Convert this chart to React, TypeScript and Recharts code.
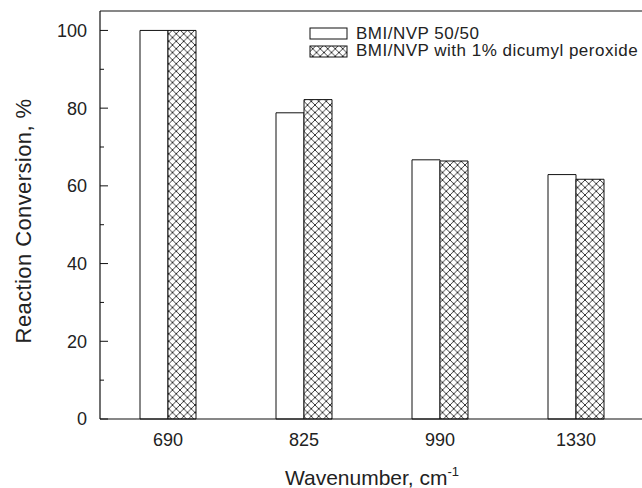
import { BarChart, Bar, XAxis, YAxis, ReferenceLine } from "recharts"

const wavenumbers = ["690", "825", "990", "1330"]
const plainSeries = [100, 78.8, 66.7, 62.9]
const peroxideSeries = [100, 82.2, 66.4, 61.7]
const yTicks = [0, 10, 20, 30, 40, 50, 60, 70, 80, 90, 100]

const SERIES_NAMES = ["BMI/NVP 50/50", "BMI/NVP with 1% dicumyl peroxide"]

const rows = wavenumbers.map((w, i) => ({
  name: w,
  plain: plainSeries[i],
  peroxide: peroxideSeries[i],
}))

const FONT = "'Liberation Sans', Arial, sans-serif"
const Y_TICK_MARGIN = 13

// left axis ticks point into the plot; labels only on the major ones
const YTick = (props: any) => {
  const { x, y, payload } = props
  const axisX = x + Y_TICK_MARGIN
  const major = payload.value % 20 === 0
  return (
    <g>
      <line x1={axisX} x2={axisX + (major ? 8 : 4)} y1={y} y2={y} stroke="#111" strokeWidth={1} />
      {major && (
        <text x={x} y={y} dy="0.36em" textAnchor="end" fontSize={18} fill="#222" fontFamily={FONT}>
          {payload.value}
        </text>
      )}
    </g>
  )
}

const YTitle = (props: any) => {
  const { viewBox } = props
  const cx = viewBox.x + 31
  const cy = viewBox.y + viewBox.height / 2 + 6
  return (
    <text
      x={cx}
      y={cy}
      transform={`rotate(-90, ${cx}, ${cy})`}
      textAnchor="middle"
      fontSize={22}
      letterSpacing={0.4}
      fill="#222"
      fontFamily={FONT}
    >
      Reaction Conversion, %
    </text>
  )
}

const XTitle = (props: any) => {
  const { viewBox } = props
  const cx = viewBox.x + viewBox.width / 2
  return (
    <text x={cx} y={viewBox.y + 66} textAnchor="middle" fontSize={21} fill="#222" fontFamily={FONT}>
      Wavenumber, cm
      <tspan dy={-9} fontSize={13}>-1</tspan>
    </text>
  )
}

// legend sits over the plot, top right, outside the chart's layout
const LegendBox = () => (
  <div
    style={{
      position: "absolute",
      left: 309,
      top: 25,
      fontFamily: FONT,
      fontSize: 17,
      letterSpacing: 0.5,
      color: "#222",
    }}
  >
    {SERIES_NAMES.map((label, i) => (
      <div key={label} style={{ display: "flex", alignItems: "center", height: 17.5, whiteSpace: "nowrap" }}>
        <svg width={40} height={13} style={{ marginRight: 7 }}>
          <rect
            x={1}
            y={1}
            width={37}
            height={11}
            fill={i === 0 ? "#fff" : "url(#crosshatch)"}
            stroke="#111"
            strokeWidth={1}
          />
        </svg>
        <span>{label}</span>
      </div>
    ))}
  </div>
)

export default function App() {
  return (
    <div
      style={{
        position: "absolute",
        left: 0,
        top: 0,
        width: 642,
        height: 488,
        overflow: "hidden",
        background: "#fff",
      }}
    >
      <BarChart
        width={660}
        height={488}
        data={rows}
        margin={{ top: 11, right: 16, left: 0, bottom: 0 }}
        barCategoryGap={40}
        barGap={0}
      >
        <defs>
          <pattern id="crosshatch" width={7.5} height={7.5} patternUnits="userSpaceOnUse">
            <rect width={7.5} height={7.5} fill="#fff" />
            <path d="M0,0 L7.5,7.5 M7.5,0 L0,7.5" stroke="#222" strokeWidth={0.9} />
          </pattern>
        </defs>
        <XAxis
          dataKey="name"
          height={69}
          tickSize={0}
          tickMargin={14}
          axisLine={{ stroke: "#111", strokeWidth: 1.2 }}
          tick={{ fontSize: 18, fill: "#222", fontFamily: FONT }}
          label={<XTitle />}
        />
        <YAxis
          width={100}
          domain={[0, 105]}
          ticks={yTicks}
          tickSize={0}
          tickMargin={Y_TICK_MARGIN}
          tickLine={false}
          interval={0}
          axisLine={{ stroke: "#111", strokeWidth: 1.2 }}
          tick={<YTick />}
          label={<YTitle />}
        />
        <ReferenceLine y={105} stroke="#111" strokeWidth={1.2} />
        <Bar dataKey="plain" name={SERIES_NAMES[0]} fill="#fff" stroke="#111" strokeWidth={1} isAnimationActive={false} />
        <Bar
          dataKey="peroxide"
          name={SERIES_NAMES[1]}
          fill="url(#crosshatch)"
          stroke="#111"
          strokeWidth={1}
          isAnimationActive={false}
        />
      </BarChart>
      <LegendBox />
    </div>
  )
}
